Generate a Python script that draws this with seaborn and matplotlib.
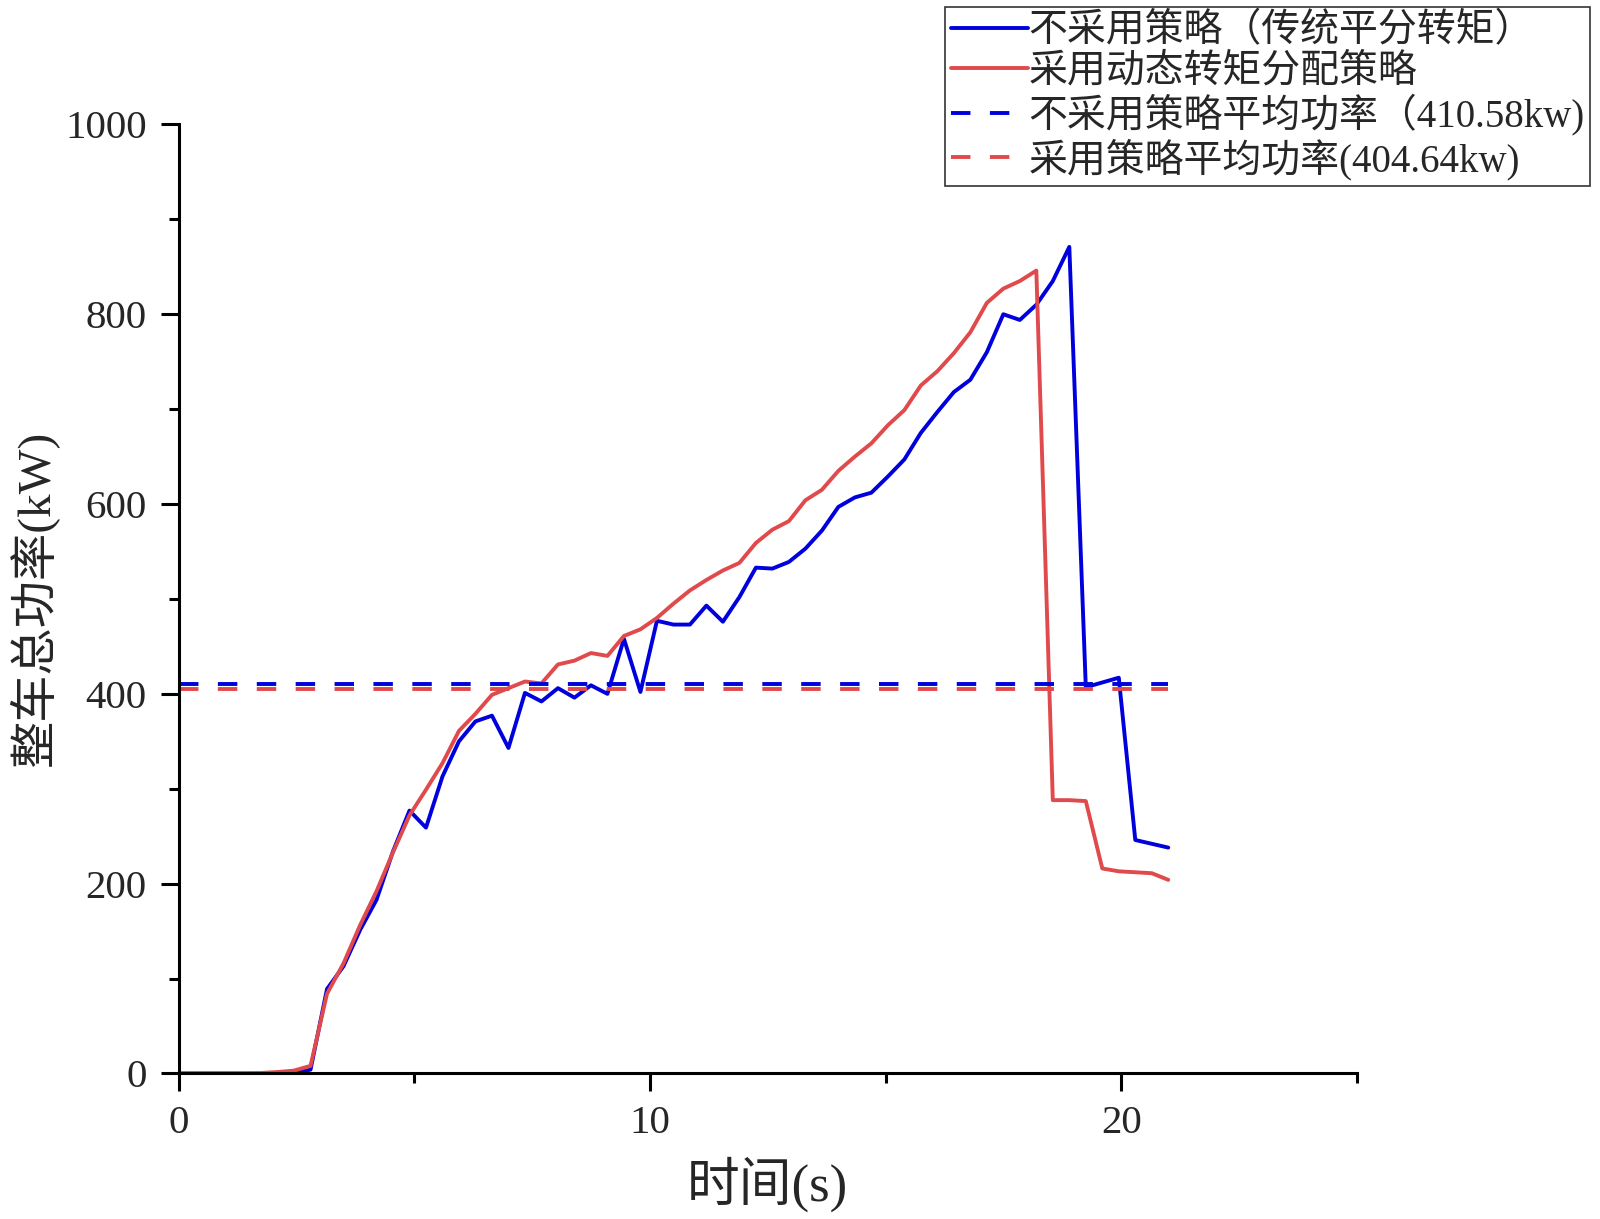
import numpy as np
import pandas as pd
import matplotlib
matplotlib.use("Agg")
import matplotlib.pyplot as plt
import seaborn as sns

# ---- data ----
time_s = [round(0.35 * k, 2) for k in range(61)]
power_equal = [0, 0, 0, 0, 0, 0, 0.5, 1, 4, 89, 113, 151, 183, 234, 277, 259, 313, 350, 371, 377,
               343, 401, 392, 406, 396, 409, 400, 458, 402, 477, 473, 473, 493, 476, 502, 533, 532,
               539, 553, 572, 597, 607, 612, 629, 647, 675, 697, 718, 731, 760, 800, 794, 810, 835,
               871, 407, 412, 417, 246, 242, 238]
power_dynamic = [0, 0, 0, 0, 0, 0.5, 1.5, 3, 8, 84, 116, 156, 192, 233, 272, 299, 327, 361, 379, 399,
                 406, 413, 411, 431, 435, 443, 440, 461, 468, 480, 495, 509, 520, 530, 538, 559, 573,
                 582, 604, 615, 635, 650, 664, 683, 699, 725, 740, 759, 781, 812, 827, 835, 846, 288,
                 288, 287, 216, 213, 212, 211, 204]
avg_equal = 410.58
avg_dynamic = 404.64
labels = ["不采用策略（传统平分转矩）", "采用动态转矩分配策略",
          "不采用策略平均功率（410.58kw)", "采用策略平均功率(404.64kw)"]
xlabel = "时间(s)"
ylabel = "整车总功率(kW)"

BLUE = "#0000dd"
RED = "#e04a4c"

sns.set_style("ticks")
fam = ["Liberation Serif", "Noto Sans CJK SC", "DejaVu Sans"]
plt.rcParams["font.family"] = fam

fig = plt.figure(figsize=(16, 12.19), dpi=100)
ax = fig.add_axes([0.1116, 0.1194, 0.848 - 0.1116, 0.8979 - 0.1194])

df = pd.DataFrame({"t": time_s, "a": power_equal, "b": power_dynamic})
sns.lineplot(data=df, x="t", y="a", ax=ax, color=BLUE, lw=2.8, label=labels[0])
sns.lineplot(data=df, x="t", y="b", ax=ax, color=RED, lw=2.8, label=labels[1])
avg_df = pd.DataFrame({"t": [0, 21.0], "a": [avg_equal, avg_equal], "b": [avg_dynamic, avg_dynamic]})
sns.lineplot(data=avg_df, x="t", y="a", ax=ax, color=BLUE, lw=2.8, ls=(0, (5, 5)), label=labels[2])
sns.lineplot(data=avg_df, x="t", y="b", ax=ax, color=RED, lw=2.8, ls=(0, (5, 5)), label=labels[3])

ax.set_xlim(0, 25)
ax.set_ylim(0, 1000)
ax.set_xticks([0, 10, 20])
ax.set_xticks([5, 15, 25], minor=True)
ax.set_yticks([0, 200, 400, 600, 800, 1000])
ax.set_yticks([100, 300, 500, 700, 900], minor=True)
ax.tick_params(which="major", length=13, width=2.2, direction="out", labelsize=29.5, pad=10, color="black")
ax.tick_params(which="minor", length=7, width=2.2, direction="out", color="black")
for s in ["top", "right"]:
    ax.spines[s].set_visible(False)
for s in ["left", "bottom"]:
    ax.spines[s].set_linewidth(2.2)
    ax.spines[s].set_color("black")
ax.set_xlabel(xlabel, fontsize=38, labelpad=10)
ax.set_ylabel(ylabel, fontsize=34, labelpad=4)

handles, labs = ax.get_legend_handles_labels()
ax.get_legend().remove()
leg = fig.legend(handles, labs, loc="upper right", bbox_to_anchor=(0.994, 0.994),
                 fontsize=28, frameon=True, fancybox=False, edgecolor="black",
                 handlelength=2.0, handletextpad=0.0, labelspacing=0.08,
                 borderpad=0.15, borderaxespad=0)
leg.get_frame().set_linewidth(1.2)

fig.savefig("out.png", dpi=100)
